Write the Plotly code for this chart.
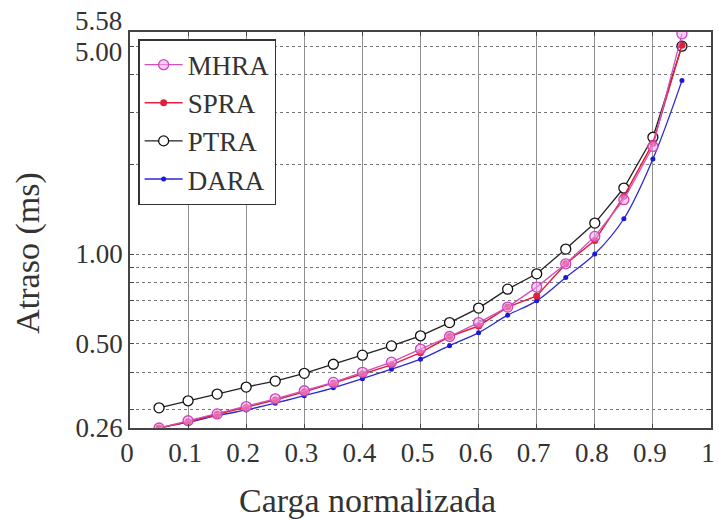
import plotly.graph_objects as go

# ---- data ----
load = [0.05, 0.10, 0.15, 0.20, 0.25, 0.30, 0.35, 0.40, 0.45, 0.50,
        0.55, 0.60, 0.65, 0.70, 0.75, 0.80, 0.85, 0.90, 0.95]
mhra = [0.260, 0.275, 0.290, 0.307, 0.326, 0.347, 0.370, 0.400, 0.433, 0.479,
        0.528, 0.588, 0.663, 0.774, 0.927, 1.146, 1.523, 2.30, 5.50]
spra = [0.260, 0.273, 0.289, 0.305, 0.323, 0.344, 0.368, 0.395, 0.424, 0.466,
        0.528, 0.573, 0.663, 0.723, 0.927, 1.110, 1.563, 2.36, 5.04]
ptra = [0.304, 0.321, 0.338, 0.357, 0.374, 0.397, 0.426, 0.457, 0.491, 0.531,
        0.588, 0.658, 0.762, 0.858, 1.039, 1.271, 1.667, 2.47, 5.00]
dara = [0.260, 0.272, 0.286, 0.299, 0.315, 0.334, 0.355, 0.381, 0.410, 0.443,
        0.492, 0.544, 0.623, 0.696, 0.834, 1.000, 1.314, 2.088, 3.83]

x_tickvals = [0, 0.1, 0.2, 0.3, 0.4, 0.5, 0.6, 0.7, 0.8, 0.9, 1.0]
x_ticktext = ["0", "0.1", "0.2", "0.3", "0.4", "0.5", "0.6", "0.7", "0.8", "0.9", "1"]
y_tickvals = [0.26, 0.5, 1.0, 5.0, 5.58]
y_ticktext = ["0.26", "0.50", "1.00", "", ""]
y_top_labels = ["5.58", "5.00"]
y_minor = [0.3, 0.4, 0.6, 0.7, 0.8, 0.9, 2, 3, 4]

FONT = "Liberation Serif, Times New Roman, serif"
TXT = "#333333"

fig = go.Figure()
fig.add_trace(go.Scatter(
    x=load, y=dara, name="DARA", mode="lines+markers", line_shape="spline",
    line=dict(color="#2a2ad0", width=1.3),
    marker=dict(symbol="circle", size=5, color="#1a1ad8")))
fig.add_trace(go.Scatter(
    x=load, y=ptra, name="PTRA", mode="lines+markers",
    line=dict(color="#222222", width=1.3),
    marker=dict(symbol="circle", size=10, color="white",
                line=dict(color="#111111", width=1.3))))
fig.add_trace(go.Scatter(
    x=load, y=spra, name="SPRA", mode="lines+markers",
    line=dict(color="#e0203a", width=1.5),
    marker=dict(symbol="circle", size=7, color="#e0203a")))
fig.add_trace(go.Scatter(
    x=load, y=mhra, name="MHRA", mode="lines+markers",
    line=dict(color="#d050b8", width=1.3),
    marker=dict(symbol="circle", size=10, color="rgba(240,170,240,0.55)",
                line=dict(color="#d040c0", width=1.3))))

top_label_px = [21, 52]  # vertical pixel centres of the two top labels
annotations = [
    dict(text="Carga normalizada", xref="paper", yref="paper",
         x=(369 - 130) / 585, y=-(500 - 428) / 396,
         xanchor="center", yanchor="middle", showarrow=False,
         font=dict(family=FONT, size=34, color=TXT)),
    dict(text="Atraso (ms)", xref="paper", yref="paper",
         x=-(130 - 27) / 585, y=(428 - 253) / 396,
         xanchor="center", yanchor="middle", showarrow=False, textangle=-90,
         font=dict(family=FONT, size=34, color=TXT)),
]
for lbl, py in zip(y_top_labels, top_label_px):
    annotations.append(dict(
        text=lbl, xref="paper", yref="paper",
        x=-(130 - 124) / 585, y=(428 - py) / 396,
        xanchor="right", yanchor="middle", showarrow=False,
        font=dict(family=FONT, size=27, color=TXT)))

fig.update_layout(
    width=719, height=519,
    margin=dict(l=130, r=4, t=32, b=91),
    paper_bgcolor="white", plot_bgcolor="white",
    font=dict(family=FONT, size=27, color=TXT),
    showlegend=True,
    legend=dict(
        x=0.014, y=0.982, xanchor="left", yanchor="top",
        traceorder="reversed",
        bgcolor="white", bordercolor=TXT, borderwidth=1.5,
        font=dict(family=FONT, size=27, color=TXT),
        itemwidth=38, tracegroupgap=0,
    ),
    annotations=annotations,
)

fig.update_xaxes(
    range=[0, 1], tickmode="array", tickvals=x_tickvals, ticktext=x_ticktext,
    showgrid=True, gridcolor="#8f8f8f", gridwidth=1,
    ticks="inside", ticklen=4, tickcolor="#444444",
    ticklabelshift=-3,
    showline=True, linecolor="#444444", linewidth=1.8, mirror="ticks",
    zeroline=False,
)
fig.update_yaxes(
    type="log", range=[-0.5850, 0.7466],
    tickmode="array", tickvals=y_tickvals, ticktext=y_ticktext,
    showgrid=True, gridcolor="#777777", gridwidth=1.3, griddash="dot",
    ticks="inside", ticklen=4, tickcolor="#444444",
    minor=dict(tickmode="array", tickvals=y_minor, showgrid=True,
               gridcolor="#777777", gridwidth=1.3, griddash="dot",
               ticks="inside", ticklen=4, tickcolor="#444444"),
    showline=True, linecolor="#444444", linewidth=1.8, mirror="ticks",
    zeroline=False,
)

fig.write_html("out.html")
